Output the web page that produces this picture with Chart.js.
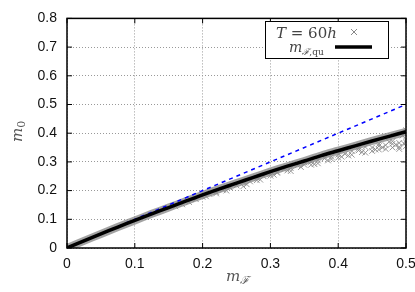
<!DOCTYPE html>
<html>
<head>
<meta charset="utf-8">
<script src="https://cdn.jsdelivr.net/npm/chart.js@4"></script>
<style>
  html, body { margin: 0; padding: 0; background: #fff; }
  #wrap { width: 415px; height: 292px; }
</style>
</head>
<body>
<div id="wrap"><canvas id="chart" width="415" height="292"></canvas></div>
<script>
// tick values for both axes
const xTicks = [0, 0.1, 0.2, 0.3, 0.4, 0.5];
const yTicks = [0, 0.1, 0.2, 0.3, 0.4, 0.5, 0.6, 0.7, 0.8];

// m_F,qu curve
const curveX = [0, 0.025, 0.05, 0.075, 0.1, 0.125, 0.15, 0.175, 0.2, 0.225, 0.25,
                0.275, 0.3, 0.325, 0.35, 0.375, 0.4, 0.425, 0.45, 0.475, 0.5];
const curveY = [0, 0.025, 0.049, 0.073, 0.096, 0.119, 0.141, 0.163, 0.185, 0.206, 0.226,
                0.246, 0.266, 0.285, 0.303, 0.322, 0.339, 0.356, 0.373, 0.389, 0.405];

// diagonal m0 = mF (blue dashed)
const diagX = [0, 0.5];
const diagY = [0, 0.5];

// T = 60h measurements (crosses)
const measX = [0.16, 0.18, 0.19, 0.20, 0.21, 0.22, 0.23, 0.24, 0.25, 0.26, 0.27, 0.28,
               0.29, 0.30, 0.31, 0.32, 0.33, 0.34, 0.35, 0.36, 0.37, 0.38, 0.39, 0.40,
               0.41, 0.42, 0.43, 0.44, 0.45, 0.46, 0.47, 0.48, 0.49, 0.50,
               0.26, 0.33, 0.37, 0.42, 0.45, 0.47, 0.49, 0.50, 0.44, 0.48,
               0.40, 0.43, 0.46, 0.495, 0.50, 0.35, 0.30, 0.22,
               0.17, 0.205, 0.235, 0.265, 0.285, 0.305, 0.325, 0.345, 0.365, 0.385,
               0.405, 0.415, 0.435, 0.455, 0.465, 0.475, 0.485, 0.497, 0.39, 0.36,
               0.31, 0.28, 0.24, 0.46, 0.48, 0.50, 0.49, 0.43];
const measY = [0.145, 0.160, 0.170, 0.178, 0.188, 0.195, 0.203, 0.210, 0.218, 0.228, 0.232, 0.244,
               0.250, 0.258, 0.262, 0.274, 0.278, 0.288, 0.290, 0.300, 0.305, 0.312, 0.318, 0.325,
               0.328, 0.338, 0.340, 0.352, 0.350, 0.362, 0.358, 0.372, 0.366, 0.375,
               0.215, 0.268, 0.295, 0.325, 0.338, 0.345, 0.352, 0.355, 0.332, 0.350,
               0.315, 0.346, 0.355, 0.392, 0.410, 0.298, 0.252, 0.190,
               0.152, 0.180, 0.200, 0.222, 0.238, 0.255, 0.270, 0.282, 0.292, 0.305,
               0.318, 0.322, 0.334, 0.343, 0.350, 0.370, 0.360, 0.364, 0.310, 0.290,
               0.265, 0.236, 0.212, 0.343, 0.363, 0.368, 0.345, 0.352];

const toPts = (xs, ys) => xs.map((x, i) => ({ x: x, y: ys[i] }));

const serif = '"DejaVu Serif", "Liberation Serif", serif';

// draw a little math expression made of pieces: [text, italic?, sizeScale, yShift]
function drawMath(ctx, parts, x, y, size, color) {
  ctx.fillStyle = color;
  ctx.textBaseline = 'alphabetic';
  ctx.textAlign = 'left';
  let cx = x;
  parts.forEach(p => {
    ctx.font = (p[1] ? 'italic ' : '') + Math.round(size * (p[2] || 1)) + 'px ' + serif;
    ctx.fillText(p[0], cx, y + (p[3] || 0));
    cx += ctx.measureText(p[0]).width;
  });
  return cx;
}

const framePlugin = {
  id: 'frame',
  afterDraw(chart) {
    const ctx = chart.ctx;
    const a = chart.chartArea;
    const xs = chart.scales.x, ys = chart.scales.y;
    ctx.save();
    ctx.strokeStyle = '#000';
    ctx.lineWidth = 1.5;
    ctx.strokeRect(a.left, a.top, a.right - a.left, a.bottom - a.top);
    // inward tick marks on all four sides
    ctx.lineWidth = 1;
    xTicks.forEach(v => {
      const px = xs.getPixelForValue(v);
      ctx.beginPath();
      ctx.moveTo(px, a.bottom); ctx.lineTo(px, a.bottom - 5);
      ctx.moveTo(px, a.top); ctx.lineTo(px, a.top + 5);
      ctx.stroke();
    });
    yTicks.forEach(v => {
      const py = ys.getPixelForValue(v);
      ctx.beginPath();
      ctx.moveTo(a.left, py); ctx.lineTo(a.left + 5, py);
      ctx.moveTo(a.right, py); ctx.lineTo(a.right - 5, py);
      ctx.stroke();
    });

    // axis titles
    const titleCol = '#555';
    drawMath(ctx, [['m', true], ['\u2131', true, 0.7, 3]], 226, 281, 15, titleCol);
    ctx.translate(22, 142);
    ctx.rotate(-Math.PI / 2);
    drawMath(ctx, [['m', true], ['0', false, 0.7, 3]], 0, 0, 15, titleCol);
    ctx.setTransform(1, 0, 0, 1, 0, 0);

    // legend box
    const bx = 265, by = 21, bw = 123, bh = 37;
    ctx.fillStyle = '#fff';
    ctx.fillRect(bx, by, bw, bh);
    ctx.strokeStyle = '#000';
    ctx.lineWidth = 1;
    ctx.strokeRect(bx + 0.5, by + 0.5, bw, bh);
    drawMath(ctx, [['T', true], [' = ', false], ['60', false], ['h', true]], 276, 38, 15, '#444');
    // cross marker
    ctx.strokeStyle = '#888';
    ctx.lineWidth = 1;
    ctx.beginPath();
    ctx.moveTo(351, 29); ctx.lineTo(357, 35);
    ctx.moveTo(357, 29); ctx.lineTo(351, 35);
    ctx.stroke();
    drawMath(ctx, [['m', true], ['\u2131', true, 0.65, 3], [',qu', false, 0.65, 3]], 289, 52, 14, '#444');
    ctx.strokeStyle = '#000';
    ctx.lineWidth = 3.5;
    ctx.beginPath();
    ctx.moveTo(335, 47); ctx.lineTo(372, 47);
    ctx.stroke();
    ctx.restore();
  }
};

new Chart(document.getElementById('chart').getContext('2d'), {
  type: 'scatter',
  data: {
    datasets: [
      {
        label: 'band',
        type: 'line',
        data: toPts(curveX, curveY),
        borderColor: 'rgba(140,140,140,0.8)',
        borderWidth: 8,
        pointRadius: 0,
        tension: 0.3,
        order: 4
      },
      {
        label: 'T = 60h',
        data: toPts(measX, measY),
        pointStyle: 'crossRot',
        pointRadius: 4,
        borderColor: 'rgba(140,140,140,0.9)',
        borderWidth: 1,
        order: 3
      },
      {
        label: 'diag',
        type: 'line',
        data: toPts(diagX, diagY),
        borderColor: '#0000ff',
        borderWidth: 1.5,
        borderDash: [4, 4],
        pointRadius: 0,
        order: 2
      },
      {
        label: 'm_F,qu',
        type: 'line',
        data: toPts(curveX, curveY),
        borderColor: '#000',
        borderWidth: 3.5,
        pointRadius: 0,
        tension: 0.3,
        order: 1
      }
    ]
  },
  options: {
    responsive: false,
    animation: false,
    layout: { padding: { top: 18, right: 0, left: 0, bottom: 0 } },
    plugins: { legend: { display: false }, tooltip: { enabled: false } },
    scales: {
      x: {
        type: 'linear',
        min: 0, max: 0.5,
        afterFit: s => { s.height = 44; s.paddingRight = 9; },
        afterBuildTicks: s => { s.ticks = xTicks.map(v => ({ value: v })); },
        grid: { color: '#999', drawTicks: false },
        border: { display: false, dash: [1, 2] },
        ticks: {
          color: '#111',
          padding: 8,
          font: { family: '"Liberation Sans", Arial, sans-serif', size: 14 },
          callback: v => String(v)
        }
      },
      y: {
        type: 'linear',
        min: 0, max: 0.8,
        afterFit: s => { s.width = 67; },
        afterBuildTicks: s => { s.ticks = yTicks.map(v => ({ value: v })); },
        grid: { color: '#999', drawTicks: false },
        border: { display: false, dash: [1, 2] },
        ticks: {
          color: '#111',
          padding: 10,
          font: { family: '"Liberation Sans", Arial, sans-serif', size: 14 },
          callback: v => String(v)
        }
      }
    }
  },
  plugins: [framePlugin]
});
</script>
</body>
</html>
